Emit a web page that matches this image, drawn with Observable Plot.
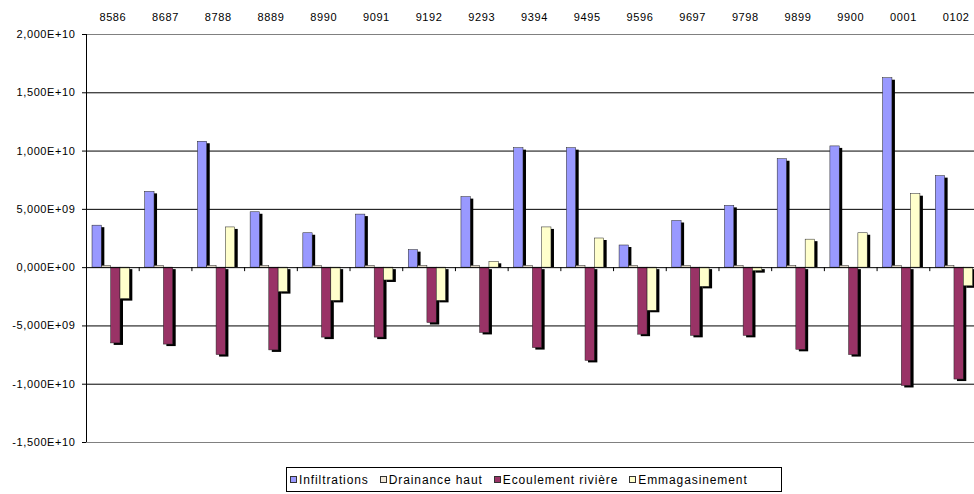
<!DOCTYPE html>
<html><head><meta charset="utf-8">
<script src="https://cdn.jsdelivr.net/npm/d3@7"></script>
<script src="https://cdn.jsdelivr.net/npm/@observablehq/plot@0.6"></script>
<style>
html,body{margin:0;padding:0;background:#fff;overflow:hidden;}
#chart svg{display:block;overflow:visible;}
#chart svg text{letter-spacing:0.6px;}
.legend{position:absolute;left:286px;top:467px;width:496px;height:25px;border:1px solid #000;box-sizing:border-box;display:flex;align-items:center;padding-left:3px;font:12px "Liberation Sans",Arial,sans-serif;letter-spacing:0.9px;color:#000;white-space:nowrap;}
.legend .item{display:flex;align-items:center;margin-right:11px;}
.legend .sw{width:7px;height:7px;border:1px solid #333;box-sizing:border-box;margin-right:2px;}
</style>
</head><body>
<div id="chart"></div>
<script>
const categories = ["8586","8687","8788","8889","8990","9091","9192","9293","9394","9495","9596","9697","9798","9899","9900","0001","0102"];
const seriesNames = ["Infiltrations","Drainance haut","Ecoulement rivière","Emmagasinement"];
const seriesColors = ["#9999ff","#f2e9d8","#993366","#ffffcc"];
const infiltrations = [3.6e9, 6.5e9, 10.8e9, 4.75e9, 2.95e9, 4.55e9, 1.5e9, 6.05e9, 10.25e9, 10.25e9, 1.9e9, 4.0e9, 5.3e9, 9.3e9, 10.4e9, 16.25e9, 7.85e9];
const drainanceHaut = [0.15e9, 0.15e9, 0.15e9, 0.15e9, 0.15e9, 0.15e9, 0.15e9, 0.15e9, 0.15e9, 0.15e9, 0.15e9, 0.15e9, 0.15e9, 0.15e9, 0.15e9, 0.15e9, 0.15e9];
const ecoulementRiviere = [-6.5e9, -6.6e9, -7.5e9, -7.1e9, -6.0e9, -6.0e9, -4.75e9, -5.6e9, -6.9e9, -8.0e9, -5.75e9, -5.85e9, -5.85e9, -7.05e9, -7.5e9, -10.15e9, -9.6e9];
const emmagasinement = [-2.7e9, 0, 3.45e9, -2.1e9, -2.85e9, -1.1e9, -2.85e9, 0.5e9, 3.45e9, 2.5e9, -3.7e9, -1.65e9, -0.3e9, 2.4e9, 2.95e9, 6.3e9, -1.6e9];
const yTicks = [-1.5e10, -1e10, -5e9, 0, 5e9, 1e10, 1.5e10, 2e10];

const seriesValues = [infiltrations, drainanceHaut, ecoulementRiviere, emmagasinement];
const rows = categories.flatMap((c, i) => seriesNames.map((s, j) => ({cat: c, i, s, j, v: seriesValues[j][i]})));

// layout within each category unit
const groupStart = 0.114, barW = 0.177;
const X1 = d => d.i + groupStart + d.j * barW;
const X2 = d => d.i + groupStart + (d.j + 1) * barW;

function fmt(v) {
  if (v === 0) return "0,000E+00";
  const e = Math.floor(Math.log10(Math.abs(v)) + 1e-9);
  const m = v / Math.pow(10, e);
  return m.toFixed(3).replace(".", ",") + "E" + (e < 0 ? "-" : "+") + String(Math.abs(e)).padStart(2, "0");
}

const yMin = yTicks[0], yMax = yTicks[yTicks.length - 1];

const chart = Plot.plot({
  width: 974,
  height: 462,
  marginLeft: 86,
  marginRight: -8,
  marginTop: 34,
  marginBottom: 20,
  style: {fontFamily: '"Liberation Sans", Arial, sans-serif', fontSize: "11px", background: "#fff", color: "#000"},
  x: {domain: [0, categories.length], axis: "top", ticks: categories.map((c, i) => i + 0.5),
      tickFormat: t => categories[Math.round(t - 0.5)], tickSize: 0, tickPadding: 14, label: null},
  y: {domain: [yMin, yMax], ticks: yTicks, tickFormat: fmt, tickSize: 4, tickPadding: 7, label: null},
  color: {domain: seriesNames, range: seriesColors},
  marks: [
    Plot.ruleY(yTicks.filter(t => t !== 0 && t !== yMin && t !== yMax), {stroke: "#000", strokeWidth: 1}),
    Plot.ruleY([yMin, yMax], {stroke: "#808080", strokeWidth: 1}),
    Plot.rectY(rows.filter(d => d.v > 0), {x1: X1, x2: X2, y: "v", fill: "#000", dx: 3, dy: 2, insetBottom: 2}),
    Plot.rectY(rows.filter(d => d.v < 0), {x1: X1, x2: X2, y: "v", fill: "#000", dx: 3, dy: 2}),
    Plot.rectY(rows.filter(d => d.v !== 0), {x1: X1, x2: X2, y: "v", fill: "s", stroke: "#222", strokeWidth: 0.5}),
    Plot.ruleY([0], {stroke: "#000", strokeWidth: 1}),
    Plot.ruleX([0], {stroke: "#000", strokeWidth: 1}),
    Plot.ruleX(d3.range(categories.length + 1), {y1: 0, y2: 0, insetBottom: -4, stroke: "#000"})
  ]
});
document.getElementById("chart").appendChild(chart);

const legend = document.createElement("div");
legend.className = "legend";
seriesNames.forEach((s, j) => {
  const item = document.createElement("span");
  item.className = "item";
  const sw = document.createElement("span");
  sw.className = "sw";
  sw.style.background = seriesColors[j];
  const tx = document.createElement("span");
  tx.textContent = s;
  item.appendChild(sw); item.appendChild(tx);
  legend.appendChild(item);
});
document.body.appendChild(legend);
</script>
</body></html>
